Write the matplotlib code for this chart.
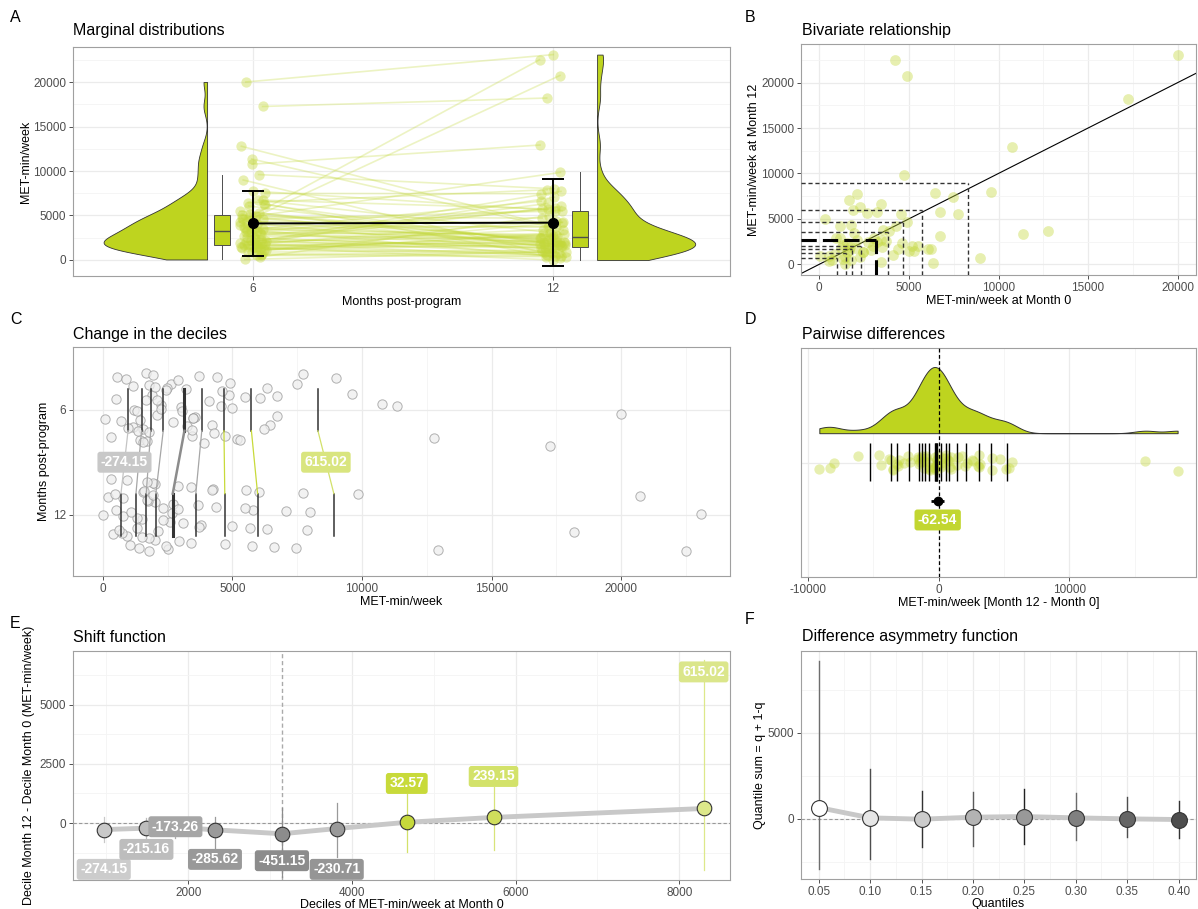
import numpy as np
import matplotlib.pyplot as plt
from matplotlib.ticker import MultipleLocator

plt.rcParams['font.family'] = ['Liberation Sans', 'DejaVu Sans']

# paired MET-min/week values (x = month 0, y = month 12)
m0 = [4220, 4910, 20000, 17250, 10770, 4710, 9600, 6440, 7480, 2080, 1660, 2250,
      3420, 1900, 3240, 2640, 6720, 7740, 4560, 320, 4870, 1140, 1770, 3570, 1950,
      11350, 12780, 6720, 950, 1140, 3460, 3700, 3010, 5170, 5490, 1560, 1990, 3480,
      4390, 5000, 5300, 6070, 6230, 2460, 60, 560, 2250, 1430, 520, 3420, 6330, 1430,
      8990, 1210, 1710, 2080, 1340, 3200,
      700, 880, 1300, 1550, 1650, 1780, 2450, 2700, 2900, 3050, 3900, 4100, 4300, 4600]
m12 = [22500, 20730, 23080, 18200, 12920, 9840, 8000, 7890, 7450, 7710, 7050, 6350,
       6610, 6020, 5800, 5690, 5760, 5540, 5500, 4990, 4700, 4260, 4370, 3780, 3410,
       3380, 3670, 3080, 2940, 2900, 2720, 2600, 2020, 2020, 2020, 2310, 1760, 1950,
       1720, 1500, 1500, 1690, 1690, 1320, 920, 920, 770, 770, 370, 290, 180, 0,
       730, 1760, 1950, 2680, 2130, 2500,
       450, 1100, 600, 1400, 1550, 500, 1300, 2450, 1600, 2900, 3700, 1050, 4200, 2300]

# deciles at month 0 and shift (decile month 12 - decile month 0) with CIs
dec_m0 = [967, 1488, 1842, 2326, 3144, 3814, 4670, 5730, 8298]
dec_shift = [-274.15, -215.16, -173.26, -285.62, -451.15, -230.71, 32.57, 239.15, 615.02]
shift_lo = [-787, -646, -650, -1067, -2261, -1419, -1208, -1138, -1980]
shift_hi = [267, 197, 150, 267, 618, 829, 1222, 1531, 6868]

# difference asymmetry function
quantiles = [0.05, 0.10, 0.15, 0.20, 0.25, 0.30, 0.35, 0.40]
qsum = [656, 58, -19, 97, 135, 58, 0, -39]
qsum_lo = [-2934, -2317, -1641, -1583, -1448, -1255, -1081, -1120]
qsum_hi = [9151, 2876, 1641, 1544, 1718, 1486, 1255, 1023]

# median pairwise difference
median_diff = -62.54
median_diff_ci = [-560, 420]

m0 = np.array(m0, float)
m12 = np.array(m12, float)
dec_m0 = np.array(dec_m0)
dec_m12 = dec_m0 + np.array(dec_shift)
diff = m12 - m0
n = len(m0)

GREEN = '#bed41f'
PT = '#c3d83a'
W, H = 1198, 909

fig = plt.figure(figsize=(W / 100, H / 100), dpi=100)


def ax_at(l, t, r, b):
    return fig.add_axes([l / W, 1 - b / H, (r - l) / W, (b - t) / H])


def theme(ax):
    ax.set_facecolor('white')
    for s in ax.spines.values():
        s.set_color('#a0a0a0')
        s.set_linewidth(0.8)
    ax.grid(True, which='major', color='#ebebeb', lw=0.9)
    ax.grid(True, which='minor', color='#f4f4f4', lw=0.6)
    ax.set_axisbelow(True)
    ax.tick_params(colors='#333333', labelcolor='#4d4d4d', labelsize=8.5, length=3,
                   width=0.6, pad=2)
    ax.tick_params(which='minor', length=0)


def kde(vals, grid):
    v = np.asarray(vals, float)
    sd = v.std(ddof=1)
    iqr = np.subtract(*np.percentile(v, [75, 25]))
    bw = 0.9 * min(sd, iqr / 1.34) * len(v) ** -0.2
    z = (grid[:, None] - v[None, :]) / bw
    return np.exp(-0.5 * z ** 2).sum(1) / (len(v) * bw * np.sqrt(2 * np.pi))


def label(ax, x, y, txt, fc, size=10):
    ax.text(x, y, txt, ha='center', va='center', color='white', fontsize=size,
            fontweight='bold', zorder=6,
            bbox=dict(boxstyle='round,pad=0.25,rounding_size=0.2', fc=fc, ec='none'))


def header(x, y, letter, lx, ly, title):
    fig.text(lx / W, 1 - ly / H, letter, fontsize=11.5, va='center')
    fig.text(x / W, 1 - y / H, title, fontsize=11.5, va='center')


jit = (np.arange(n) * 0.618034) % 1 - 0.5
jit2 = (np.arange(n) * 0.754878) % 1 - 0.5
jit3 = (np.arange(n) * 0.569840 + 0.3) % 1 - 0.5

# ---------------- A: marginal distributions ----------------
ax = ax_at(73, 47, 730, 276)
theme(ax)
xa0 = 1 + jit * 0.09
xa1 = 2 + jit2 * 0.09
for i in range(n):
    ax.plot([xa0[i], xa1[i]], [m0[i], m12[i]], color=PT, alpha=0.3, lw=1.2, zorder=2)
ax.scatter(xa0, m0, s=55, color=PT, alpha=0.4, lw=0, zorder=3)
ax.scatter(xa1, m12, s=55, color=PT, alpha=0.4, lw=0, zorder=3)

g = np.linspace(m0.min(), m0.max(), 300)
d = kde(m0, g)
ax.fill_betweenx(g, 0.847 - d / d.max() * 0.345, 0.847, fc=GREEN, ec='#333333', lw=0.6, zorder=3)
g = np.linspace(m12.min(), m12.max(), 300)
d = kde(m12, g)
ax.fill_betweenx(g, 2.147, 2.147 + d / d.max() * 0.327, fc=GREEN, ec='#333333', lw=0.6, zorder=3)

for vals, pos in [(m0, 0.897), (m12, 2.09)]:
    ax.boxplot([vals], positions=[pos], widths=0.053, patch_artist=True, showfliers=False,
               showcaps=False, manage_ticks=False,
               boxprops=dict(facecolor=GREEN, edgecolor='#4d4d4d', lw=0.7),
               medianprops=dict(color='#4d4d4d', lw=1),
               whiskerprops=dict(color='#4d4d4d', lw=0.7), zorder=3)

means = [m0.mean(), m12.mean()]
sds = [m0.std(ddof=1), m12.std(ddof=1)]
ax.errorbar([1, 2], means, yerr=sds, fmt='o-', color='black', ms=7, capsize=8,
            lw=1.4, capthick=1.4, zorder=5)
ax.set_xlim(0.4, 2.59)
ax.set_ylim(-1798, 23933)
ax.set_xticks([1, 2], ['6', '12'])
ax.set_yticks(np.arange(0, 20001, 5000))
ax.yaxis.set_minor_locator(MultipleLocator(2500))
ax.set_xlabel('Months post-program', fontsize=9, labelpad=1)
ax.set_ylabel('MET-min/week', fontsize=9, labelpad=1)
header(73, 30, 'A', 10, 17, 'Marginal distributions')

# ---------------- B: bivariate relationship ----------------
ax = ax_at(801, 44, 1196, 275)
theme(ax)
xmin, xmax, ymin, ymax = -1021, 21021, -1178, 24248
ax.scatter(m0, m12, s=60, color=PT, alpha=0.4, lw=0, zorder=3)
ax.axline((0, 0), (1, 1), color='black', lw=0.8, zorder=2)
for i, (a, b) in enumerate(zip(dec_m0, dec_m12)):
    if i == 4:
        kw = dict(color='black', lw=2.2, ls=(0, (5, 2)))
    else:
        kw = dict(color='#333333', lw=1, ls=(0, (3, 2)))
    ax.plot([a, a], [ymin, b], zorder=4, **kw)
    ax.plot([xmin, a], [b, b], zorder=4, **kw)
ax.set_xlim(xmin, xmax)
ax.set_ylim(ymin, ymax)
ax.set_xticks(np.arange(0, 20001, 5000))
ax.set_yticks(np.arange(0, 20001, 5000))
ax.xaxis.set_minor_locator(MultipleLocator(2500))
ax.yaxis.set_minor_locator(MultipleLocator(2500))
ax.set_xlabel('MET-min/week at Month 0', fontsize=9, labelpad=1)
ax.set_ylabel('MET-min/week at Month 12', fontsize=9, labelpad=1)
header(802, 31, 'B', 745, 17, 'Bivariate relationship')

# ---------------- C: change in the deciles ----------------
ax = ax_at(73, 347, 730, 576)
theme(ax)
ax.scatter(m0, 2 + jit3 * 0.7, s=45, fc='#eeeeee', ec='#999999', lw=0.7, alpha=0.75, zorder=3)
ax.scatter(m12, 1 + jit2 * 0.7, s=45, fc='#eeeeee', ec='#999999', lw=0.7, alpha=0.75, zorder=3)
link_cols = ['#c4c4c4', '#a6a6a6', '#a6a6a6', '#a6a6a6', '#8c8c8c', '#a6a6a6',
             '#c8da3a', '#c8da3a', '#d2e16a']
for i, (a, b) in enumerate(zip(dec_m0, dec_m12)):
    lw = 2.2 if i == 4 else 1.1
    ax.plot([a, a], [1.8, 2.2], color='#333333', lw=lw, zorder=4)
    ax.plot([b, b], [0.8, 1.2], color='#333333', lw=lw, zorder=4)
    ax.plot([a, b], [1.8, 1.2], color=link_cols[i], lw=1.8 if i == 4 else 0.9, zorder=4)
label(ax, (dec_m0[0] + dec_m12[0]) / 2, 1.5, '%.2f' % dec_shift[0], '#c8c8c8')
label(ax, (dec_m0[-1] + dec_m12[-1]) / 2, 1.5, '%.2f' % dec_shift[-1], '#d9e57f')
ax.set_xlim(-1158, 24208)
ax.set_ylim(0.414, 2.60)
ax.set_yticks([2, 1], ['6', '12'])
ax.set_xticks(np.arange(0, 20001, 5000))
ax.xaxis.set_minor_locator(MultipleLocator(2500))
ax.set_xlabel('MET-min/week', fontsize=9, labelpad=1)
ax.set_ylabel('Months post-program', fontsize=9, labelpad=2)
header(73, 334, 'C', 10, 320, 'Change in the deciles')

# ---------------- D: pairwise differences ----------------
ax = ax_at(801, 348, 1196, 577)
theme(ax)
g = np.linspace(diff.min(), diff.max(), 400)
d = kde(diff, g)
ax.fill_between(g, 0.628, 0.628 + d / d.max() * 0.289, fc=GREEN, ec='#333333', lw=0.7, zorder=3)
ax.scatter(diff, 0.5 + jit * 0.07, s=55, color=PT, alpha=0.4, lw=0, zorder=3)
qd = np.quantile(diff, np.arange(0.05, 0.951, 0.05))
ax.vlines(qd, 0.419, 0.583, color='black', lw=1, zorder=4)
ax.vlines(np.median(diff), 0.419, 0.583, color='black', lw=2, zorder=4)
ax.axvline(0, color='black', ls=(0, (3, 2)), lw=0.9, zorder=5)
ax.errorbar([median_diff], [0.333],
            xerr=[[median_diff - median_diff_ci[0]], [median_diff_ci[1] - median_diff]],
            fmt='o', color='black', ms=6, lw=2, capsize=0, zorder=6)
label(ax, median_diff, 0.249, '%.2f' % median_diff, '#c2d631')
ax.set_xlim(-10512, 19686)
ax.set_ylim(0, 1)
ax.set_xticks([-10000, 0, 10000], ['-10000', '0', '10000'])
ax.xaxis.set_minor_locator(MultipleLocator(5000))
ax.set_yticks([0.5])
ax.tick_params(axis='y', length=0, labelleft=False)
ax.set_xlabel('MET-min/week [Month 12 - Month 0]', fontsize=9, labelpad=1)
header(802, 334, 'D', 745, 320, 'Pairwise differences')

# ---------------- E: shift function ----------------
ax = ax_at(73, 651, 730, 880)
theme(ax)
pt_cols = ['#c8c8c8', '#bdbdbd', '#ababab', '#9a9a9a', '#8c8c8c', '#9a9a9a',
           '#c6d93b', '#d0de5c', '#dde88a']
ci_cols = ['#c8c8c8', '#bdbdbd', '#ababab', '#9a9a9a', '#8c8c8c', '#9a9a9a',
           '#d3e16a', '#d8e47a', '#dde88a']
lab_cols = ['#cccccc', '#bdbdbd', '#a6a6a6', '#999999', '#8c8c8c', '#959595',
            '#c8da3a', '#d3e26a', '#dbe68b']
label_y_e = [-1952, -1110, -154, -1531, -1587, -1952, 1671, 1966, 6376]
ax.axhline(0, color='#999999', ls=(0, (3, 2)), lw=0.8, zorder=2)
ax.axvline(dec_m0[4], color='#aaaaaa', ls=(0, (3, 2)), lw=1, zorder=2)
ax.plot(dec_m0, dec_shift, color='#c8c8c8', lw=3.5, zorder=3)
for i in range(len(dec_m0)):
    ax.plot([dec_m0[i]] * 2, [shift_lo[i], shift_hi[i]], color=ci_cols[i], lw=0.9, zorder=3)
    ax.scatter(dec_m0[i], dec_shift[i], s=110, fc=pt_cols[i], ec='#333333', lw=0.8, zorder=4)
    label(ax, dec_m0[i], label_y_e[i], '%.2f' % dec_shift[i], lab_cols[i])
ax.set_xlim(591, 8620)
ax.set_ylim(-2401, 7258)
ax.set_xticks([2000, 4000, 6000, 8000])
ax.xaxis.set_minor_locator(MultipleLocator(1000))
ax.set_yticks([0, 2500, 5000])
ax.yaxis.set_minor_locator(MultipleLocator(1250))
ax.set_xlabel('Deciles of MET-min/week at Month 0', fontsize=9, labelpad=0)
ax.set_ylabel('Decile Month 12 - Decile Month 0 (MET-min/week)', fontsize=9, labelpad=3)
header(73, 637, 'E', 10, 623, 'Shift function')

# ---------------- F: difference asymmetry function ----------------
ax = ax_at(801, 651, 1196, 879)
theme(ax)
f_cols = ['#ffffff', '#e6e6e6', '#cccccc', '#b3b3b3', '#999999', '#808080', '#666666', '#4d4d4d']
f_ci = ['#6e6e6e', '#4d4d4d', '#333333', '#5a5a5a', '#222222', '#6a6a6a', '#4d4d4d', '#333333']
ax.axhline(0, color='#999999', ls=(0, (3, 2)), lw=0.8, zorder=2)
ax.plot(quantiles, qsum, color='#c8c8c8', lw=3.5, zorder=3)
for i in range(len(quantiles)):
    ax.plot([quantiles[i]] * 2, [qsum_lo[i], qsum_hi[i]], color=f_ci[i], lw=1, zorder=3)
    ax.scatter(quantiles[i], qsum[i], s=130, fc=f_cols[i], ec='#333333', lw=0.8, zorder=4)
ax.set_xlim(0.0328, 0.4169)
ax.set_ylim(-3490, 9740)
ax.set_xticks(quantiles, ['%.2f' % q for q in quantiles])
ax.xaxis.set_minor_locator(MultipleLocator(0.025))
ax.set_yticks([0, 5000])
ax.yaxis.set_minor_locator(MultipleLocator(2500))
ax.set_xlabel('Quantiles', fontsize=9, labelpad=0)
ax.set_ylabel('Quantile sum = q + 1-q', fontsize=9, labelpad=1)
header(802, 636, 'F', 745, 620, 'Difference asymmetry function')

fig.savefig('out.png', dpi=100)
